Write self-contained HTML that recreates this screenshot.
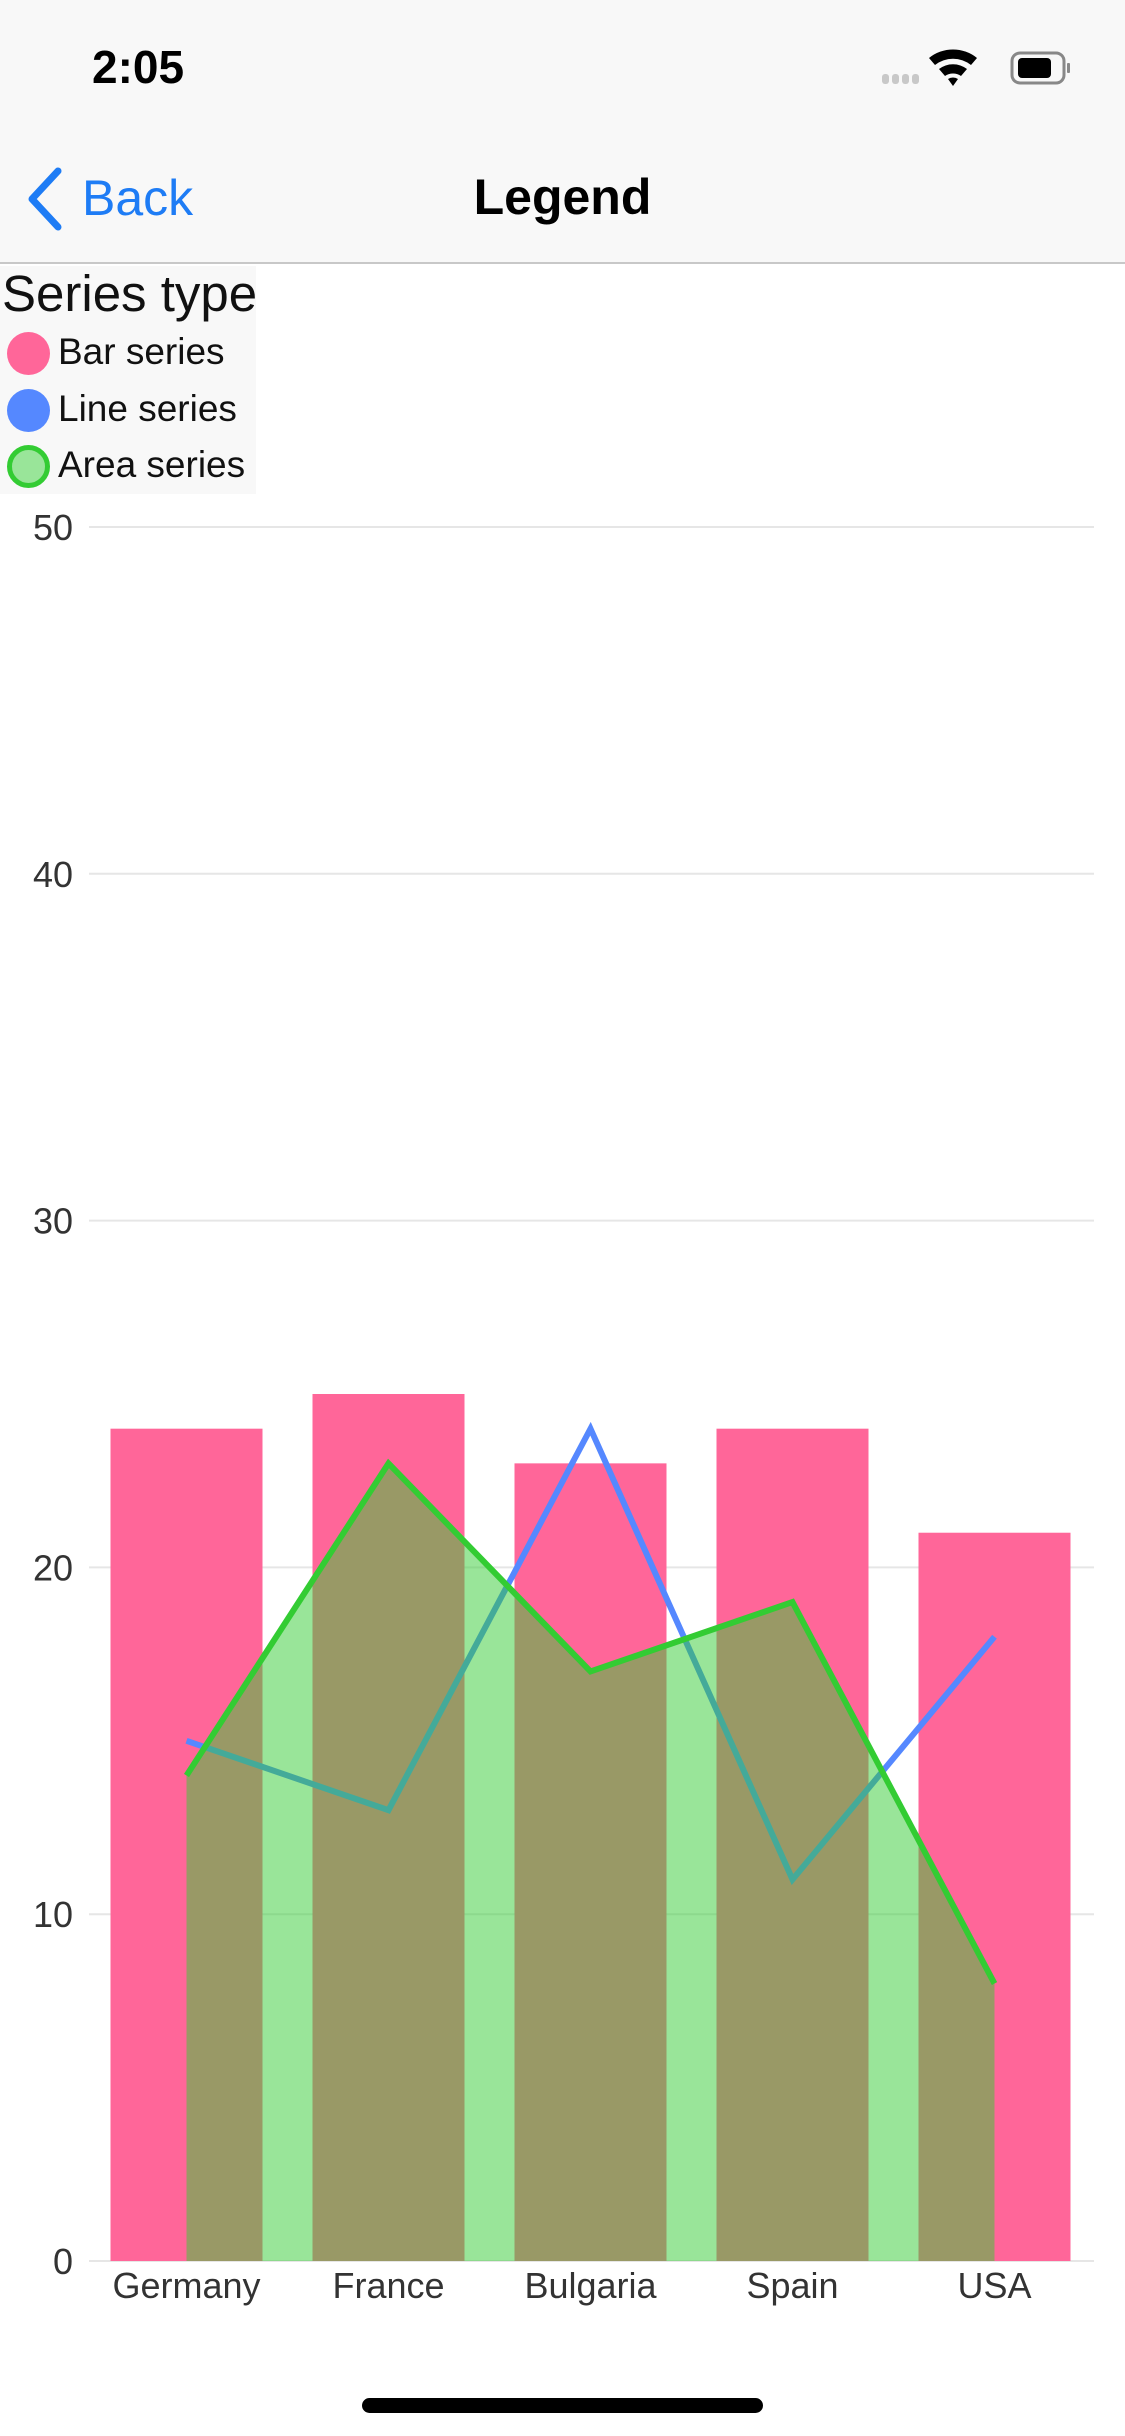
<!DOCTYPE html>
<html><head><meta charset="utf-8">
<style>
html,body{margin:0;padding:0;width:1125px;height:2436px;background:#fff;overflow:hidden;font-family:"Liberation Sans",sans-serif;}
#top{position:absolute;left:0;top:0;width:1125px;height:264px;background:#F8F8F8;border-bottom:2px solid #C8C8C8;box-sizing:border-box;}
#legend{position:absolute;left:0;top:266px;width:256px;height:228px;background:#F8F8F8;}
.li{position:absolute;left:0;font-size:37px;color:#111;white-space:nowrap;}
.dot{position:absolute;left:7px;width:43px;height:43px;border-radius:50%;box-sizing:border-box;}
</style></head>
<body>
<div id="top">
  <div style="position:absolute;left:92px;top:40px;font-size:46px;font-weight:bold;color:#000;">2:05</div>
  <svg style="position:absolute;left:875px;top:44px" width="210" height="50">
    <g fill="#C8C8C8"><rect x="7" y="30" width="7" height="10" rx="3"/><rect x="17" y="30" width="7" height="10" rx="3"/><rect x="27" y="30" width="7" height="10" rx="3"/><rect x="37" y="30" width="7" height="10" rx="3"/></g>
    <path d="M54 14 A38 38 0 0 1 102 14 L96 21 A29 29 0 0 0 60 21Z M64 25 A23 23 0 0 1 92 25 L86 32 A14 14 0 0 0 70 32Z M73 35 A9 9 0 0 1 83 35 L78 42Z" fill="#000"/>
    <rect x="137" y="9" width="52" height="30" rx="8" fill="none" stroke="#888" stroke-width="3"/>
    <rect x="143" y="14" width="33" height="20" rx="4" fill="#000"/>
    <rect x="192" y="19" width="3" height="10" rx="1" fill="#888"/>
  </svg>
  <div style="position:absolute;left:24px;top:165px;height:65px;width:180px;">
    <svg width="40" height="64" style="position:absolute;left:0;top:2px"><path d="M34 4 L8 32 L34 60" fill="none" stroke="#1E7CF5" stroke-width="7" stroke-linecap="round" stroke-linejoin="round"/></svg>
    <span style="position:absolute;left:58px;top:4px;font-size:50px;color:#1E7CF5;">Back</span>
  </div>
  <div style="position:absolute;left:0;width:1125px;text-align:center;top:168px;font-size:50px;font-weight:bold;color:#000;">Legend</div>
</div>

<div id="legend">
  <div style="position:absolute;left:2px;top:-2px;font-size:51px;color:#111;white-space:nowrap;">Series type</div>
  <div><div class="dot" style="top:66px;background:#FF6699"></div><div class="li" style="left:58px;top:65px">Bar series</div></div>
  <div><div class="dot" style="top:123px;background:#5588FF"></div><div class="li" style="left:58px;top:122px">Line series</div></div>
  <div><div class="dot" style="top:179px;background:#99E599;border:5px solid #33CC33"></div><div class="li" style="left:58px;top:178px">Area series</div></div>
</div>

<svg id="chart" width="1125" height="2436" style="position:absolute;left:0;top:0;pointer-events:none"></svg>

<div style="position:absolute;left:362px;top:2398px;width:401px;height:15px;border-radius:8px;background:#000;"></div>

<script>
const categories = ["Germany","France","Bulgaria","Spain","USA"];
const barValues = [24,25,23,24,21];
const lineValues = [15,13,24,11,18];
const areaValues = [14,23,17,19,8];
const yTicks = [0,10,20,30,40,50];

const NS = "http://www.w3.org/2000/svg";
const svg = document.getElementById("chart");
const plotLeft = 89, plotRight = 1094, y0 = 2261, y50 = 527;
const firstCenter = 186.5, band = 202;
function yScale(v){ return y0 - (v/50)*(y0-y50); }
function xScale(i){ return firstCenter + i*band; }
function mk(tag, attrs){ const e=document.createElementNS(NS,tag); for(const k in attrs) e.setAttribute(k, attrs[k]); svg.appendChild(e); return e; }

yTicks.forEach(t=>{
  const g = mk("line",{x1:plotLeft,x2:plotRight,y1:yScale(t),y2:yScale(t),stroke:"#E6E6E6","stroke-width":2});
  
  
  const tx = mk("text",{x:73,y:yScale(t)+13,"text-anchor":"end","font-size":36,fill:"#333","font-family":"Liberation Sans, sans-serif"});
  tx.textContent = t;
  
  
});

const barW = 152;
barValues.forEach((v,i)=>{
  const r = mk("rect",{x:xScale(i)-barW/2,y:yScale(v),width:barW,height:y0-yScale(v),fill:"#FF6699"});
  
  
});

const lp = mk("polyline",{points:lineValues.map((v,i)=>xScale(i)+","+yScale(v)).join(" "),fill:"none",stroke:"#5588FF","stroke-width":6,"stroke-linejoin":"miter"});



const pts = areaValues.map((v,i)=>xScale(i)+","+yScale(v));
const ar = mk("polygon",{points:xScale(0)+","+y0+" "+pts.join(" ")+" "+xScale(areaValues.length-1)+","+y0,fill:"rgba(51,204,51,0.5)"});


const al = mk("polyline",{points:pts.join(" "),fill:"none",stroke:"#33CC33","stroke-width":6});



categories.forEach((c,i)=>{
  const tx = mk("text",{x:xScale(i),y:2298,"text-anchor":"middle","font-size":36,fill:"#333","font-family":"Liberation Sans, sans-serif"});
  tx.textContent = c;
  
  
});
</script>
</body></html>
